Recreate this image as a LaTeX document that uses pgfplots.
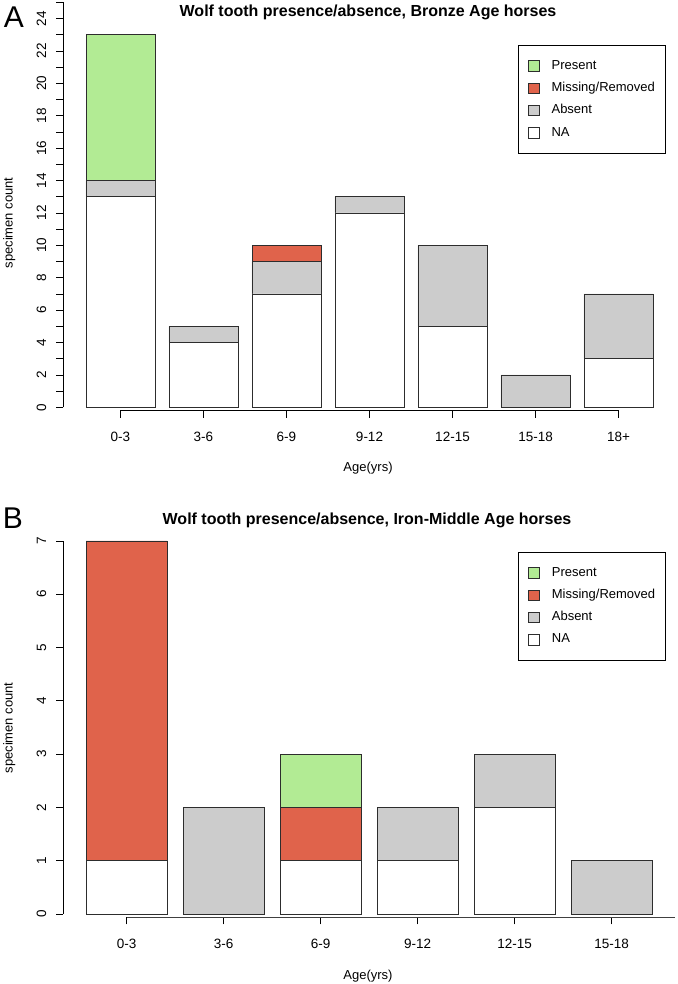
\documentclass[border=0pt]{standalone}
\usepackage{fontspec}
\setmainfont{Liberation Sans}
\usepackage{pgfplots}
\pgfplotsset{compat=1.18}
\definecolor{cPresent}{RGB}{178,235,148}
\definecolor{cMissing}{RGB}{224,99,75}
\definecolor{cAbsent}{RGB}{204,204,204}
\definecolor{cEdge}{RGB}{45,45,45}
\newcommand{\fs}{\fontsize{13}{15}\selectfont}
\newcommand{\fst}{\fontsize{13.5}{15}\selectfont}
\pgfplotsset{
  rstyle/.style={
    scale only axis, anchor=south west, clip=false,
    axis lines*=left, axis line style={draw=none},
    tick align=outside, major tick length=7pt, minor tick length=7pt,
    tick style={draw=black, line width=0.75pt},
    ybar stacked, bar width=0.8333,
    enlargelimits=false,
    ticklabel style={font=\fst},
    /pgf/number format/assume math mode=true,
    yticklabel style={rotate=90, anchor=base},
    yticklabel shift=10pt,
    xticklabel shift=11pt,
    xlabel={Age(yrs)}, ylabel={specimen count},
    label style={font=\fs},
    reverse legend,
    legend cell align=left,
    legend image code/.code={\draw[##1, line width=0.75pt, draw=cEdge] (0pt,-5.3pt) rectangle (10.7pt,5.3pt);},
    legend style={draw=black, line width=0.75pt, anchor=north west,
      inner xsep=10pt, inner ysep=14.8pt, row sep=10.2pt,
      nodes={inner sep=0pt, text height=9.4pt, text depth=2.6pt, font=\fs},
      /tikz/every odd column/.append style={column sep=12pt}},
    every axis plot/.append style={draw=cEdge, line width=0.75pt},
  }
}
\begin{document}
\begin{tikzpicture}
\path[use as bounding box] (0pt,0pt) rectangle (677pt,984pt);
% Panel A
\begin{axis}[rstyle, at={(63.2pt,573.3pt)}, width=612.6pt, height=410pt,
  xmin=-0.69, xmax=6.69, ymin=-0.21, ymax=25.1,
  xtick={0,...,6}, xticklabels={0-3,3-6,6-9,9-12,12-15,15-18,18+},
  ytick={0,2,...,24}, minor ytick={1,3,...,25},
  legend style={at={(axis description cs:0.742,0.892)}},
  xlabel style={at={(axis description cs:0.4976,-0.1398)}, anchor=center},
  ylabel style={at={(axis description cs:-0.088,0.458)}, anchor=center, rotate=0},
]
\addplot[fill=white] coordinates {(0,13) (1,4) (2,7) (3,12) (4,5) (5,0) (6,3)};
\addlegendentry{NA}
\addplot[fill=cAbsent] coordinates {(0,1) (1,1) (2,2) (3,1) (4,5) (5,2) (6,4)};
\addlegendentry{Absent}
\addplot[fill=cMissing] coordinates {(0,0) (1,0) (2,1) (3,0) (4,0) (5,0) (6,0)};
\addlegendentry{Missing/Removed}
\addplot[fill=cPresent] coordinates {(0,9) (1,0) (2,0) (3,0) (4,0) (5,0) (6,0)};
\addlegendentry{Present}
\draw[black, line width=0.75pt] (axis cs:0,-0.21) -- (axis cs:6,-0.21);
\draw[black, line width=0.75pt] (axis cs:-0.69,0) -- (axis cs:-0.69,25);
\end{axis}
% Panel B
\begin{axis}[rstyle, at={(63pt,66.7pt)}, width=611.6pt, height=391.3pt,
  xmin=-0.655, xmax=5.65, ymin=-0.062, ymax=7.28,
  xtick={0,...,5}, xticklabels={0-3,3-6,6-9,9-12,12-15,15-18},
  ytick={0,...,7},
  legend style={at={(axis description cs:0.744,0.934)}},
  xlabel style={at={(axis description cs:0.4987,-0.150)}, anchor=center},
  ylabel style={at={(axis description cs:-0.088,0.484)}, anchor=center, rotate=0},
]
\addplot[fill=white] coordinates {(0,1) (1,0) (2,1) (3,1) (4,2) (5,0)};
\addlegendentry{NA}
\addplot[fill=cAbsent] coordinates {(0,0) (1,2) (2,0) (3,1) (4,1) (5,1)};
\addlegendentry{Absent}
\addplot[fill=cMissing] coordinates {(0,6) (1,0) (2,1) (3,0) (4,0) (5,0)};
\addlegendentry{Missing/Removed}
\addplot[fill=cPresent] coordinates {(0,0) (1,0) (2,1) (3,0) (4,0) (5,0)};
\addlegendentry{Present}
\draw[black!75, line width=0.75pt] (axis cs:0,-0.062) -- (axis cs:5.65,-0.062);
\draw[black, line width=0.75pt] (axis cs:-0.655,0) -- (axis cs:-0.655,7);
\end{axis}
% titles and panel letters
\node[font=\fontsize{16}{18}\selectfont\bfseries] at (368pt,972pt) {Wolf tooth presence/absence, Bronze Age horses};
\node[font=\fontsize{16}{18}\selectfont\bfseries] at (367pt,464pt) {Wolf tooth presence/absence, Iron-Middle Age horses};
\node[font=\fontsize{30}{32}\selectfont] at (14pt,967pt) {A};
\node[font=\fontsize{30}{32}\selectfont] at (13pt,466pt) {B};
\end{tikzpicture}
\end{document}
